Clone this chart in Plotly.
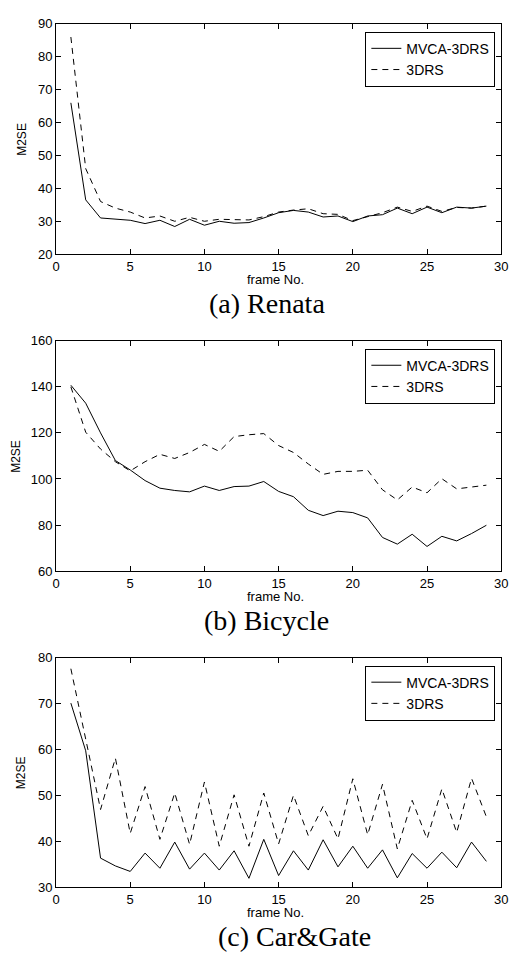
import plotly.graph_objects as go

frames = list(range(1, 30))

renata_mvca = [66, 36.5, 31, 30.7, 30.3, 29.3, 30.3, 28.4, 30.6, 28.8, 30, 29.4, 29.6, 31,
               32.6, 33.3, 32.8, 31.3, 31.6, 29.9, 31.6, 32, 34, 32.3, 34.3, 32.6, 34.3, 34, 34.6]
renata_3drs = [86, 46, 36, 34, 32.8, 31, 31.6, 30, 31.2, 30, 30.6, 30.4, 30.4, 31.4,
               32.8, 33.4, 33.8, 32.3, 32.1, 30.2, 31.4, 32.6, 34.3, 33, 34.6, 33, 34.2, 34, 34.6]

bicycle_mvca = [140.7, 132.9, 120, 108, 103.9, 99.3, 96, 95, 94.4, 96.9, 95, 96.7, 96.9, 98.9,
                94.6, 92.3, 86.4, 84.1, 86, 85.4, 83.1, 74.6, 71.7, 76, 70.7, 75.1, 73.1, 76.3, 79.9]
bicycle_3drs = [140, 120.3, 113, 107.5, 103.5, 107.5, 110.7, 108.9, 111.5, 115, 112, 118.4, 119.2, 119.7,
                114.5, 111.5, 106.5, 102, 103.3, 103.3, 103.8, 95.3, 90.9, 96.5, 94, 100.1, 95.7, 96.4, 97.3]

cargate_mvca = [70.1, 59.7, 36.3, 34.6, 33.4, 37.4, 34.1, 39.8, 33.9, 37.4, 33.7, 37.9, 31.9, 40.4,
                32.5, 37.9, 33.7, 40.3, 34.4, 38.9, 34.1, 38.1, 32, 37.3, 34.1, 37.6, 34.2, 39.8, 35.6]
cargate_3drs = [77.6, 62, 46.9, 58.1, 41.7, 51.9, 40.4, 50.5, 39.3, 52.9, 38.9, 50.1, 38.9, 50.5,
                39.4, 50, 41.2, 47.6, 40.5, 53.6, 41.4, 52.4, 38.3, 48.9, 40.5, 51.4, 41.9, 53.7, 45.3]

series_names = ["MVCA-3DRS", "3DRS"]
captions = ["(a) Renata", "(b) Bicycle", "(c) Car&Gate"]
y_ranges = [[20, 90], [60, 160], [30, 80]]
y_dticks = [10, 20, 10]
x_ticks = [0, 5, 10, 15, 20, 25, 30]

panels = [(renata_mvca, renata_3drs), (bicycle_mvca, bicycle_3drs), (cargate_mvca, cargate_3drs)]

# page body has an 8px margin; design in window pixels and shift
OFF = 8
W, H = 510, 951


def px(xw):
    return (xw - OFF) / W


def py(yw):
    return 1 - (yw - OFF) / H


boxes = [(17, 251), (339, 573), (661, 894)]
x_left, x_right = 53, 508

fig = go.Figure()
legend_names = ["legend", "legend2", "legend3"]

for i, (mv, dr) in enumerate(panels):
    xa = "x" if i == 0 else f"x{i+1}"
    ya = "y" if i == 0 else f"y{i+1}"
    fig.add_trace(go.Scatter(x=frames, y=mv, mode="lines", name=series_names[0],
                             line=dict(color="black", width=1), xaxis=xa, yaxis=ya,
                             legend=legend_names[i]))
    fig.add_trace(go.Scatter(x=frames, y=dr, mode="lines", name=series_names[1],
                             line=dict(color="black", width=1, dash="6px,5px"), xaxis=xa, yaxis=ya,
                             legend=legend_names[i]))

axis_font = dict(family="Liberation Sans, Arial", size=13, color="black")
layout = dict(
    width=W, height=H, paper_bgcolor="white", plot_bgcolor="white",
    margin=dict(l=0, r=0, t=0, b=0), showlegend=True,
)

for i in range(3):
    top, bot = boxes[i]
    xkey = "xaxis" if i == 0 else f"xaxis{i+1}"
    ykey = "yaxis" if i == 0 else f"yaxis{i+1}"
    yanchor = "y" if i == 0 else f"y{i+1}"
    xanchor = "x" if i == 0 else f"x{i+1}"
    layout[xkey] = dict(
        domain=[px(x_left), px(x_right)], anchor=yanchor, range=[0, 30],
        tickvals=x_ticks, ticks="inside", ticklen=5, tickcolor="black",
        showline=True, linecolor="black", linewidth=1, mirror="ticks",
        showgrid=False, zeroline=False, tickfont=axis_font,
    )
    layout[ykey] = dict(
        domain=[py(bot), py(top)], anchor=xanchor, range=y_ranges[i],
        dtick=y_dticks[i], tick0=0, ticks="inside", ticklen=5, tickcolor="black",
        showline=True, linecolor="black", linewidth=1, mirror="ticks",
        showgrid=False, zeroline=False, tickfont=axis_font,
    )
    layout[legend_names[i]] = dict(
        x=px(502), xanchor="right", y=py(top + 8), yanchor="top",
        bordercolor="black", borderwidth=1, bgcolor="white",
        font=dict(family="Liberation Sans, Arial", size=14, color="black"),
        tracegroupgap=0, itemwidth=30,
    )

fig.update_layout(**layout)

m2se_x = [18, 12, 18]
caption_x = [269, 268, 297]
for i in range(3):
    top, bot = boxes[i]
    fig.add_annotation(text="frame No.", xref="paper", yref="paper", x=px(277), y=py(bot + 26),
                       showarrow=False, font=dict(family="Liberation Sans, Arial", size=13, color="black"),
                       xanchor="center", yanchor="middle")
    fig.add_annotation(text="M2SE", xref="paper", yref="paper", x=px(m2se_x[i]), y=py((top + bot) / 2),
                       showarrow=False, textangle=-90,
                       font=dict(family="Liberation Sans, Arial", size=12, color="black"),
                       xanchor="center", yanchor="middle")
    fig.add_annotation(text=captions[i], xref="paper", yref="paper", x=px(caption_x[i]), y=py(bot + 50),
                       showarrow=False, font=dict(family="Liberation Serif, Times New Roman", size=28, color="black"),
                       xanchor="center", yanchor="middle")

fig.write_html("out.html")
